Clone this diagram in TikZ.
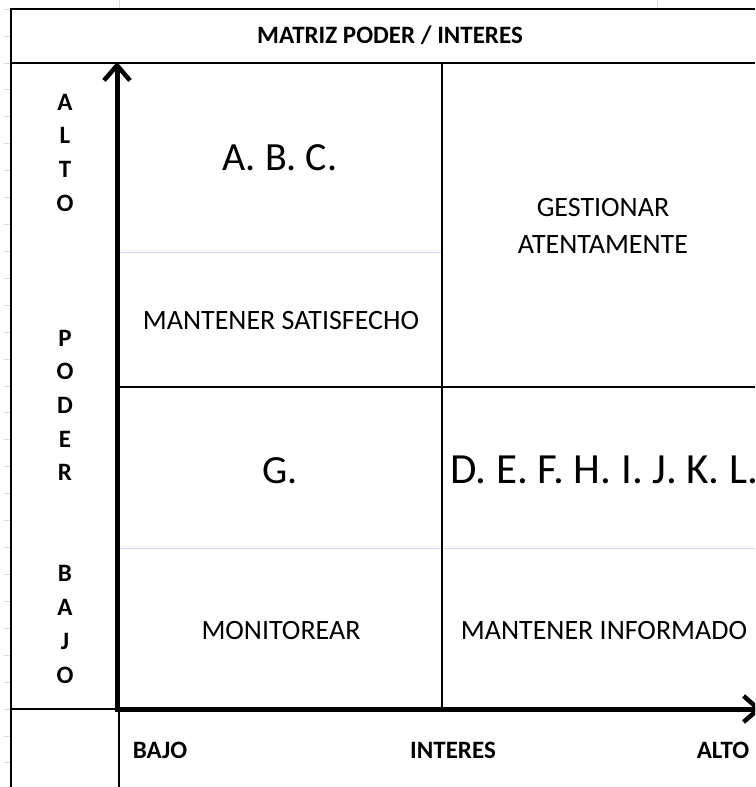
\documentclass[tikz,border=0pt]{standalone}
\usepackage{fontspec}
\setmainfont{Carlito}
\usetikzlibrary{arrows.meta}
\definecolor{gridblue}{HTML}{D4DBEA}

\begin{document}
\begin{tikzpicture}[
  x=1pt, y=-1pt,
  frame/.style={line width=2pt},
  cellline/.style={line width=1.3pt},
  sheetline/.style={line width=1pt, draw=gridblue},
  axis/.style={line width=5pt, line join=miter,
               {Straight Barb[length=15pt, width=26pt, line width=4.5pt]}-{Straight Barb[length=15pt, width=26pt, line width=4.5pt]}},
  lbl/.style={font=\fontsize{25}{30}\selectfont\bfseries, inner sep=0pt, anchor=base},
  txt/.style={font=\fontsize{28}{34}\selectfont, inner sep=0pt, anchor=base},
  big/.style={font=\fontsize{40}{48}\selectfont, inner sep=0pt, anchor=base}
]
  \clip (0,0) rectangle (755,787);
  \fill[white] (0,0) rectangle (755,787);

  % spreadsheet gridlines
  \foreach \k in {-2,...,27}
    \draw[sheetline] (4,{63+26.92*\k}) -- (11,{63+26.92*\k});
  \draw[sheetline] (119,0) -- (119,8);
  \draw[sheetline] (657,0) -- (657,8);
  \draw[sheetline] (117,252) -- (442,252);
  \draw[sheetline] (117,548) -- (755,548);

  % table frame
  \draw[frame] (755,8.5) -- (11,8.5) -- (11,787);
  \draw[frame] (11,63) -- (755,63);
  \draw[cellline] (442,63) -- (442,709);
  \draw[cellline] (117,387) -- (755,387);
  \draw[cellline] (11,709) -- (117,709);
  \draw[cellline] (119,709) -- (119,787);

  % axes
  \coordinate (ytop) at (117,62);
  \coordinate (orig) at (117,709);
  \coordinate (xend) at (762,709);
  \draw[axis] (ytop) -- (orig) -- (xend);

  % title
  \node[lbl] (title) at (390,43) {MATRIZ PODER / INTERES};

  % vertical axis label
  \foreach \l/\k in {A/0,L/1,T/2,O/3,P/7,O/8,D/9,E/10,R/11,B/14,A/15,J/16,O/17}
    \node[lbl, anchor=center] (v\k) at (65,{102+33.7*\k}) {\l};

  % quadrants
  \node[big] (abc)  at (280,170) {A. B. C.};
  \node[txt] (sat)  at (281,329) {MANTENER SATISFECHO};
  \node[txt] (gest) at (603,216) {GESTIONAR};
  \node[txt] (aten) at (603,253) {ATENTAMENTE};
  \node[big] (g)    at (280,483) {G.};
  \node[big, anchor=base west, font=\fontsize{43}{50}\selectfont] (rest) at (450,483) {D. E. F. H. I. J. K. L.};
  \node[txt] (mon)  at (281,639) {MONITOREAR};
  \node[txt] (inf)  at (604,639) {MANTENER INFORMADO};

  % horizontal axis labels
  \node[lbl] (bajo) at (160,758) {BAJO};
  \node[lbl] (int)  at (453,758) {INTERES};
  \node[lbl] (alto) at (723,758) {ALTO};
\end{tikzpicture}
\end{document}
